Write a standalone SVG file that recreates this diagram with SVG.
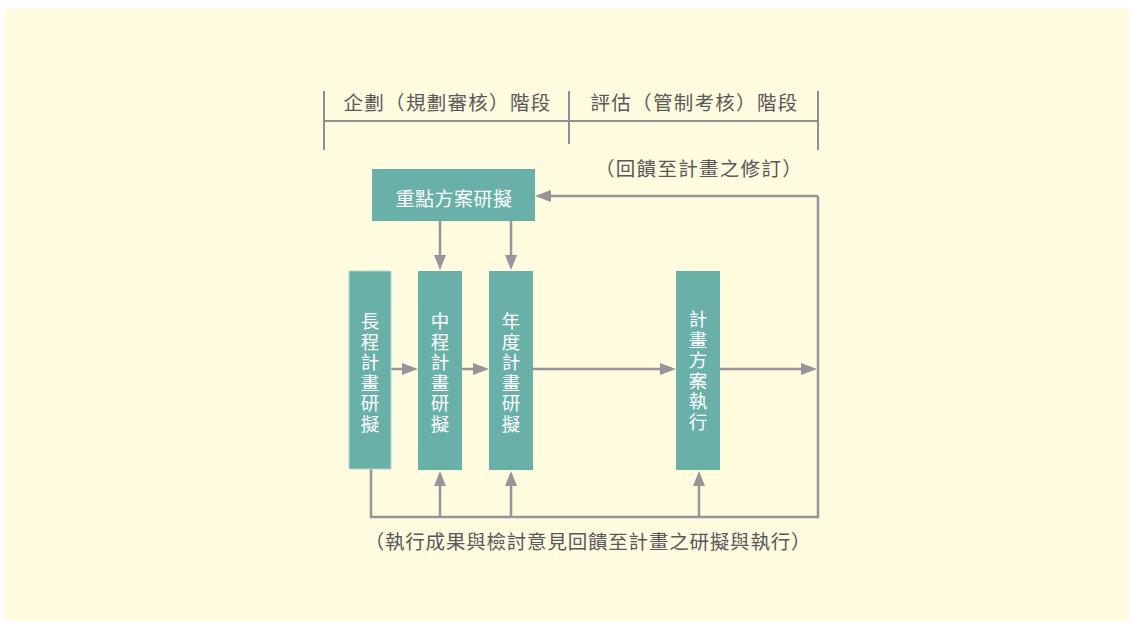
<svg xmlns="http://www.w3.org/2000/svg" width="1132" height="621" viewBox="0 0 1132 621">
<style>
.t{font-family:"Noto Sans CJK TC","Noto Sans CJK SC",sans-serif;fill:#5a5858;font-size:19.5px;text-anchor:middle;dominant-baseline:central}
.w{font-family:"Noto Sans CJK TC","Noto Sans CJK SC",sans-serif;fill:#ffffff;font-size:18.5px;text-anchor:middle;dominant-baseline:central}
.box{fill:#69b0a9}
.ln{stroke:#96969a;stroke-width:2.5;fill:none}
.br{stroke:#8f8f92;stroke-width:2;fill:none}
.ah{fill:#96969a}
</style>
<rect x="0" y="0" width="1132" height="621" fill="#ffffff"/>
<rect x="5" y="9" width="1124" height="612" fill="#fefbdf"/>
<g id="header">
<path class="br" d="M324,91 V150 M569,91 V144 M818,91 V150 M324,121 H818"/>
<text class="t" x="447.5" y="101" letter-spacing="1.3">企劃（規劃審核）階段</text>
<text class="t" x="694.5" y="101" letter-spacing="1.3">評估（管制考核）階段</text>
</g>
<g id="connectors">
<path class="ln" d="M440,221 V258"/>
<path class="ah" d="M440,270 L434,255 L446,255 z"/>
<path class="ln" d="M511,221 V258"/>
<path class="ah" d="M511,270 L505,255 L517,255 z"/>
<path class="ln" d="M818,196 V517 H371 V469"/>
<path class="ln" d="M818,196 H548"/>
<path class="ah" d="M535,196 L551,190 L551,202 z"/>
<path class="ln" d="M391,369 H405"/>
<path class="ah" d="M418,369 L402,363 L402,375 z"/>
<path class="ln" d="M462,369 H476"/>
<path class="ah" d="M489,369 L473,363 L473,375 z"/>
<path class="ln" d="M533,369 H663"/>
<path class="ah" d="M676,369 L660,363 L660,375 z"/>
<path class="ln" d="M720,369 H804"/>
<path class="ah" d="M817,369 L801,363 L801,375 z"/>
<path class="ln" d="M440,517 V483"/>
<path class="ah" d="M440,471 L434,486 L446,486 z"/>
<path class="ln" d="M511,517 V483"/>
<path class="ah" d="M511,471 L505,486 L517,486 z"/>
<path class="ln" d="M699,517 V483"/>
<path class="ah" d="M699,471 L693,486 L705,486 z"/>
</g>
<g id="n0">
<rect class="box" x="372" y="169" width="163" height="52"/>
<text class="w" x="454" y="197" style="font-size:19px" letter-spacing="0.5">重點方案研擬</text>
</g>
<g id="n1">
<rect class="box" x="349" y="271" width="42" height="198" stroke="#b9d9cf" stroke-width="1"/>
<text class="w" x="370"><tspan x="370" y="320">長</tspan><tspan x="370" y="340.5">程</tspan><tspan x="370" y="361">計</tspan><tspan x="370" y="381.5">畫</tspan><tspan x="370" y="402">研</tspan><tspan x="370" y="422.5">擬</tspan></text>
</g>
<g id="n2">
<rect class="box" x="418" y="271" width="44" height="199"/>
<text class="w" x="440"><tspan x="440" y="320">中</tspan><tspan x="440" y="340.5">程</tspan><tspan x="440" y="361">計</tspan><tspan x="440" y="381.5">畫</tspan><tspan x="440" y="402">研</tspan><tspan x="440" y="422.5">擬</tspan></text>
</g>
<g id="n3">
<rect class="box" x="489" y="271" width="44" height="199"/>
<text class="w" x="511"><tspan x="511" y="320">年</tspan><tspan x="511" y="340.5">度</tspan><tspan x="511" y="361">計</tspan><tspan x="511" y="381.5">畫</tspan><tspan x="511" y="402">研</tspan><tspan x="511" y="422.5">擬</tspan></text>
</g>
<g id="n4">
<rect class="box" x="676" y="271" width="44" height="199"/>
<text class="w" x="698"><tspan x="698" y="318">計</tspan><tspan x="698" y="338.5">畫</tspan><tspan x="698" y="359">方</tspan><tspan x="698" y="379.5">案</tspan><tspan x="698" y="400">執</tspan><tspan x="698" y="420.5">行</tspan></text>
</g>
<g id="labels">
<text class="t" x="699" y="167" letter-spacing="1.3">（回饋至計畫之修訂）</text>
<text class="t" x="588" y="540" letter-spacing="0.8">（執行成果與檢討意見回饋至計畫之研擬與執行）</text>
</g>
</svg>
